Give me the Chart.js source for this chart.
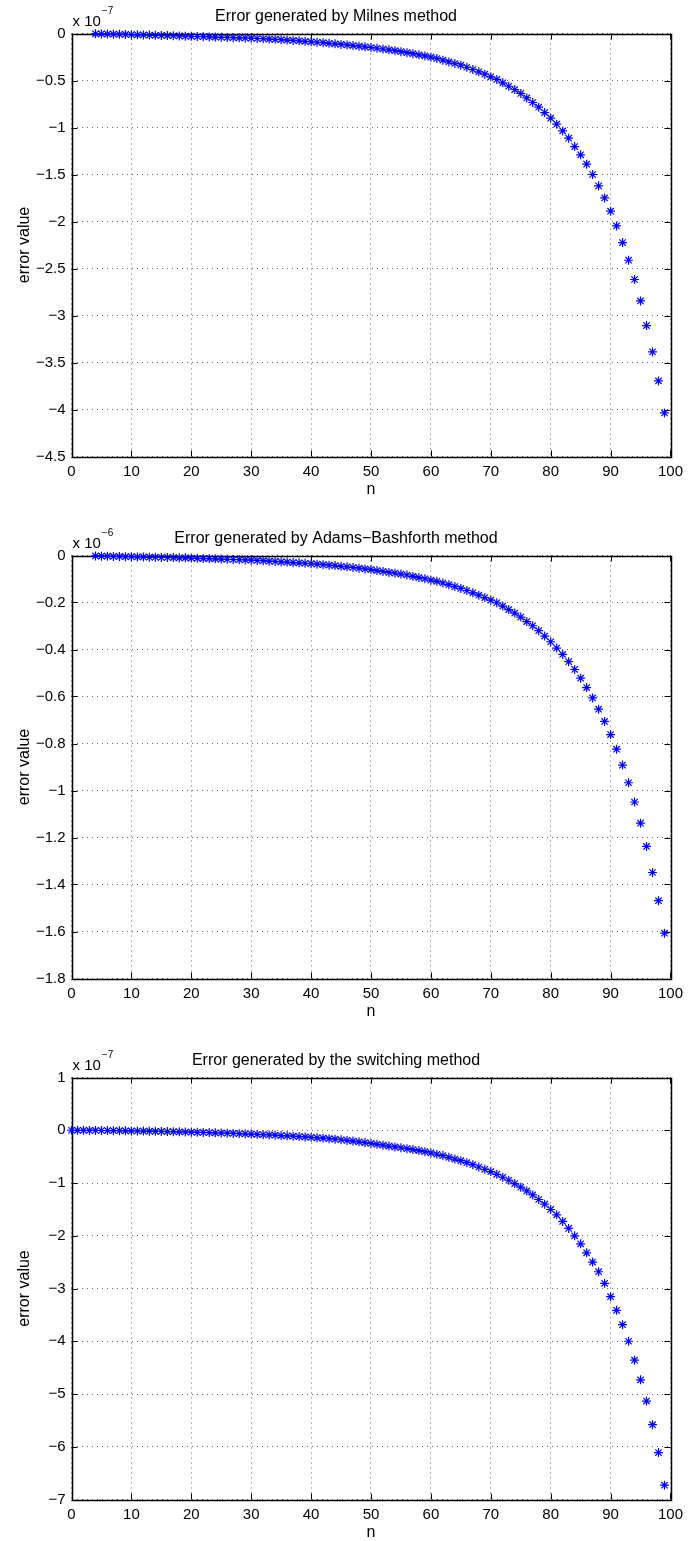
<!DOCTYPE html>
<html>
<head>
<meta charset="utf-8">
<script src="https://cdn.jsdelivr.net/npm/chart.js@4.4.1/dist/chart.umd.min.js"></script>
<style>
  html, body { margin: 0; padding: 0; background: #fff; }
  body { width: 689px; height: 1541px; position: relative; overflow: hidden; }
  canvas { position: absolute; left: 0; }
</style>
</head>
<body>
<canvas id="c_milne" width="689" height="522" style="top:0"></canvas>
<canvas id="c_ab" width="689" height="522" style="top:522px"></canvas>
<canvas id="c_switch" width="689" height="497" style="top:1044px"></canvas>
<script>
// step index n for each plotted error value
const stepsFrom4 = [4, 5, 6, 7, 8, 9, 10, 11, 12, 13, 14, 15, 16, 17, 18, 19, 20, 21, 22, 23, 24, 25, 26, 27, 28, 29,
  30, 31, 32, 33, 34, 35, 36, 37, 38, 39, 40, 41, 42, 43, 44, 45, 46, 47, 48, 49, 50, 51, 52, 53, 54, 55, 56, 57, 58, 59,
  60, 61, 62, 63, 64, 65, 66, 67, 68, 69, 70, 71, 72, 73, 74, 75, 76, 77, 78, 79, 80, 81, 82, 83, 84, 85, 86, 87, 88, 89,
  90, 91, 92, 93, 94, 95, 96, 97, 98, 99];
const stepsFrom0 = [0, 1, 2, 3, 4, 5, 6, 7, 8, 9, 10, 11, 12, 13, 14, 15, 16, 17, 18, 19, 20, 21, 22, 23, 24, 25, 26, 27, 28, 29,
  30, 31, 32, 33, 34, 35, 36, 37, 38, 39, 40, 41, 42, 43, 44, 45, 46, 47, 48, 49, 50, 51, 52, 53, 54, 55, 56, 57, 58, 59,
  60, 61, 62, 63, 64, 65, 66, 67, 68, 69, 70, 71, 72, 73, 74, 75, 76, 77, 78, 79, 80, 81, 82, 83, 84, 85, 86, 87, 88, 89,
  90, 91, 92, 93, 94, 95, 96, 97, 98, 99];

// error values, in units of 1e-7 (Milne), 1e-6 (Adams-Bashforth), 1e-7 (switching)
const milneErr = [-0.003, -0.004, -0.006, -0.007, -0.009, -0.010, -0.012, -0.014, -0.015, -0.017, -0.019, -0.020,
  -0.022, -0.024, -0.026, -0.028, -0.030, -0.032, -0.034, -0.036, -0.038, -0.040, -0.042, -0.044, -0.046, -0.048,
  -0.050, -0.053, -0.056, -0.059, -0.062, -0.066, -0.070, -0.074, -0.078, -0.083, -0.088, -0.093, -0.098, -0.104,
  -0.110, -0.116, -0.122, -0.128, -0.135, -0.142, -0.149, -0.157, -0.165, -0.174, -0.183, -0.193, -0.204, -0.215,
  -0.227, -0.239, -0.252, -0.266, -0.284, -0.302, -0.319, -0.337, -0.359, -0.383, -0.408, -0.433, -0.461, -0.489,
  -0.525, -0.561, -0.596, -0.638, -0.685, -0.734, -0.784, -0.841, -0.901, -0.965, -1.036, -1.114, -1.203, -1.291,
  -1.390, -1.500, -1.621, -1.749, -1.890, -2.047, -2.224, -2.412, -2.617, -2.845, -3.107, -3.387, -3.696, -4.036];
const abErr = [-0.002, -0.003, -0.003, -0.004, -0.004, -0.005, -0.005, -0.006, -0.006, -0.007, -0.007, -0.008,
  -0.008, -0.009, -0.010, -0.010, -0.011, -0.012, -0.013, -0.013, -0.014, -0.015, -0.016, -0.017, -0.018, -0.019,
  -0.020, -0.021, -0.022, -0.024, -0.025, -0.027, -0.028, -0.030, -0.031, -0.033, -0.035, -0.037, -0.039, -0.041,
  -0.043, -0.046, -0.048, -0.051, -0.054, -0.057, -0.060, -0.064, -0.068, -0.072, -0.075, -0.079, -0.083, -0.089,
  -0.094, -0.099, -0.105, -0.110, -0.117, -0.124, -0.132, -0.140, -0.149, -0.159, -0.169, -0.179, -0.190, -0.201,
  -0.215, -0.230, -0.245, -0.262, -0.281, -0.299, -0.320, -0.343, -0.367, -0.394, -0.421, -0.452, -0.485, -0.522,
  -0.562, -0.606, -0.654, -0.706, -0.762, -0.824, -0.892, -0.967, -1.049, -1.139, -1.238, -1.349, -1.469, -1.607];
const switchErr = [0.000, -0.001, -0.002, -0.003, -0.004, -0.005, -0.006, -0.008, -0.009, -0.011, -0.012, -0.014,
  -0.016, -0.018, -0.020, -0.022, -0.025, -0.027, -0.030, -0.033, -0.036, -0.039, -0.042, -0.045, -0.049, -0.052,
  -0.056, -0.060, -0.064, -0.068, -0.073, -0.078, -0.083, -0.088, -0.094, -0.100, -0.106, -0.113, -0.120, -0.127,
  -0.135, -0.143, -0.151, -0.160, -0.169, -0.180, -0.192, -0.205, -0.219, -0.234, -0.250, -0.266, -0.283, -0.300,
  -0.316, -0.332, -0.349, -0.367, -0.386, -0.407, -0.430, -0.455, -0.481, -0.513, -0.546, -0.577, -0.614, -0.652,
  -0.697, -0.740, -0.784, -0.835, -0.891, -0.948, -1.011, -1.080, -1.150, -1.226, -1.313, -1.402, -1.502, -1.604,
  -1.729, -1.862, -2.001, -2.153, -2.323, -2.499, -2.682, -2.902, -3.155, -3.413, -3.685, -4.000, -4.359, -4.731,
  -5.134, -5.582, -6.111, -6.729];

const xTicks = [0, 10, 20, 30, 40, 50, 60, 70, 80, 90, 100];

const FONT = '"Liberation Sans", Arial, Helvetica, sans-serif';
Chart.defaults.font.family = FONT;
Chart.defaults.color = '#000';

const fmt = v => {
  const s = String(Math.round(v * 100) / 100);
  return s === '-0' ? '0' : s.replace('-', '\u2212');
};

// axes box + inward tick marks + "x 10^k" label, matlab style
const boxPlugin = {
  id: 'box',
  beforeDatasetsDraw(chart) {
    const { ctx, chartArea: a, scales } = chart;
    const tl = 6;
    ctx.save();
    ctx.strokeStyle = '#000';
    ctx.lineWidth = 1;
    ctx.beginPath();
    scales.x.ticks.forEach(t => {
      const px = Math.round(scales.x.getPixelForValue(t.value)) + 0.5;
      ctx.moveTo(px, a.top); ctx.lineTo(px, a.top + tl);
      ctx.moveTo(px, a.bottom); ctx.lineTo(px, a.bottom - tl);
    });
    scales.y.ticks.forEach(t => {
      const py = Math.round(scales.y.getPixelForValue(t.value)) + 0.5;
      ctx.moveTo(a.left, py); ctx.lineTo(a.left + tl, py);
      ctx.moveTo(a.right, py); ctx.lineTo(a.right - tl, py);
    });
    ctx.stroke();
    ctx.lineWidth = 1.5;
    ctx.strokeRect(Math.round(a.left) + 0.5, Math.round(a.top) + 0.5,
      Math.round(a.right - a.left), Math.round(a.bottom - a.top));
    ctx.restore();
  },
  afterDraw(chart, args, opts) {
    const { ctx, chartArea: a } = chart;
    ctx.save();
    ctx.fillStyle = '#000';
    ctx.textBaseline = 'middle';
    ctx.font = '15px ' + FONT;
    ctx.fillText('x 10', a.left + 1, a.top - 12);
    const w = ctx.measureText('x 10').width;
    ctx.font = '10px ' + FONT;
    ctx.fillText(opts.exp, a.left + 1 + w + 1, a.top - 22);
    ctx.restore();
  },
};

function makePanel(id, titleText, exp, steps, values, yMin, yMax, yStep, xAxisH, bottomPad, nPad) {
  return new Chart(document.getElementById(id), {
    type: 'scatter',
    data: {
      datasets: [{
        data: steps.map((n, i) => ({ x: n, y: values[i] })),
        pointStyle: 'star',
        pointRadius: 4.5,
        borderColor: '#0000ff',
        backgroundColor: '#0000ff',
        borderWidth: 1.2,
        clip: false,
      }],
    },
    plugins: [boxPlugin],
    options: {
      responsive: false,
      animation: false,
      devicePixelRatio: 1,
      layout: { padding: { left: 0, right: 17, top: 0, bottom: bottomPad } },
      plugins: {
        legend: { display: false },
        tooltip: { enabled: false },
        title: {
          display: true,
          text: titleText,
          color: '#000',
          font: { size: 16, weight: 'normal', lineHeight: 1.2 },
          padding: { top: 7, bottom: 7.3 },
        },
        box: { exp },
      },
      scales: {
        x: {
          type: 'linear',
          min: 0,
          max: 100,
          afterBuildTicks: s => { s.ticks = xTicks.map(v => ({ value: v })); },
          afterFit: s => { s.height = xAxisH; },
          ticks: { font: { size: 15 }, padding: 6, maxRotation: 0, callback: v => fmt(v) },
          grid: { drawTicks: false, color: '#666', lineWidth: 1 },
          border: { display: false, dash: [1, 4] },
          title: { display: true, text: 'n', font: { size: 16, lineHeight: 1 }, padding: { top: 0, bottom: nPad } },
        },
        y: {
          min: yMin,
          max: yMax,
          afterFit: s => { s.width = 71.5; },
          ticks: { stepSize: yStep, font: { size: 15 }, padding: 6, callback: v => fmt(v) },
          grid: { drawTicks: false, color: '#666', lineWidth: 1 },
          border: { display: false, dash: [1, 4] },
          title: { display: true, text: 'error value', font: { size: 16, lineHeight: 1 }, padding: { top: 17, bottom: 0 } },
        },
      },
    },
  });
}

makePanel('c_milne', 'Error generated by Milnes method', '\u22127', stepsFrom4, milneErr, -4.5, 0, 0.5, 44, 21.5, 2.5);
makePanel('c_ab', 'Error generated by Adams\u2212Bashforth method', '\u22126', stepsFrom4, abErr, -1.8, 0, 0.2, 44, 21.5, 2.5);
makePanel('c_switch', 'Error generated by the switching method', '\u22127', stepsFrom0, switchErr, -7, 1, 1, 41.5, 0, 0);
</script>
</body>
</html>
